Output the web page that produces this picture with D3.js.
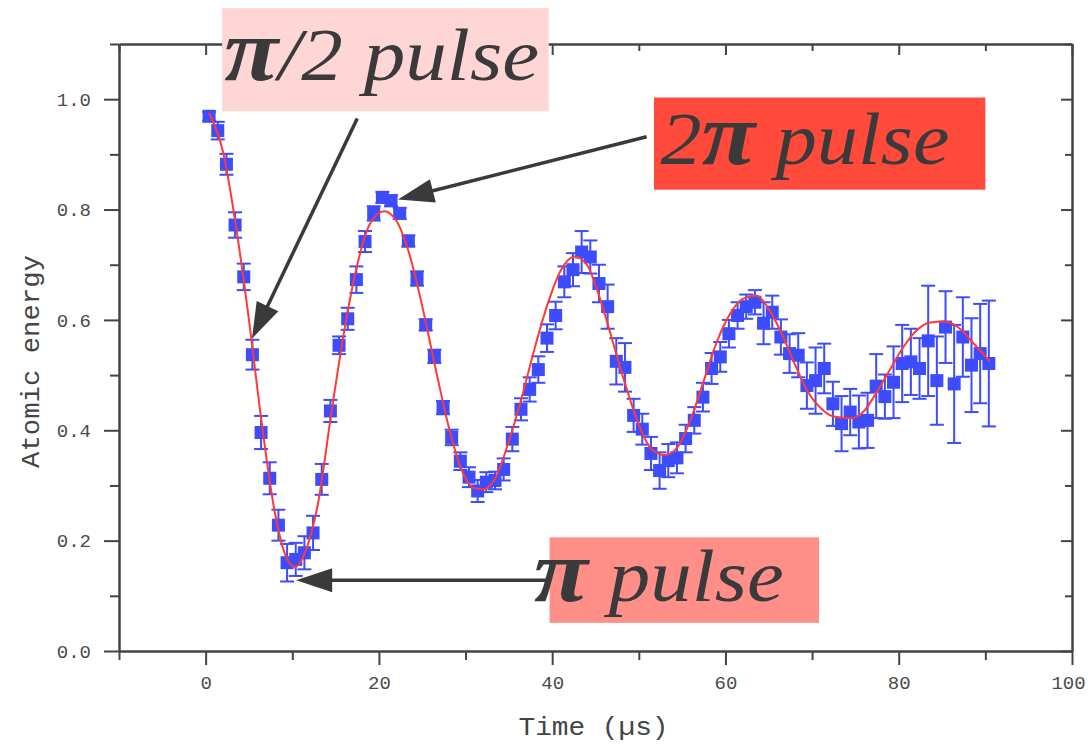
<!DOCTYPE html>
<html>
<head>
<meta charset="utf-8">
<script src="https://cdn.jsdelivr.net/npm/d3@7"></script>
<style>
  body { margin: 0; background: #fff; }
</style>
</head>
<body>
<div id="chart"></div>
<script>
// Measured points (time in microseconds, atomic energy, error half-width)
const timeUs = [0.4, 1.4, 2.4, 3.4, 4.4, 5.4, 6.4, 7.4, 8.4, 9.4,
    10.4, 11.4, 12.4, 13.4, 14.4, 15.4, 16.4, 17.4, 18.4, 19.4,
    20.4, 21.4, 22.4, 23.4, 24.4, 25.4, 26.4, 27.4, 28.4, 29.4,
    30.4, 31.4, 32.4, 33.4, 34.4, 35.4, 36.4, 37.4, 38.4, 39.4,
    40.4, 41.4, 42.4, 43.4, 44.4, 45.4, 46.4, 47.4, 48.4, 49.4,
    50.4, 51.4, 52.4, 53.4, 54.4, 55.4, 56.4, 57.4, 58.4, 59.4,
    60.4, 61.4, 62.4, 63.4, 64.4, 65.4, 66.4, 67.4, 68.4, 69.4,
    70.4, 71.4, 72.4, 73.4, 74.4, 75.4, 76.4, 77.4, 78.4, 79.4,
    80.4, 81.4, 82.4, 83.4, 84.4, 85.4, 86.4, 87.4, 88.4, 89.4, 90.4];
const energy = [0.969, 0.943, 0.882, 0.772, 0.678, 0.537, 0.396, 0.313, 0.228, 0.160,
    0.166, 0.178, 0.214, 0.311, 0.435, 0.554, 0.602, 0.673, 0.742, 0.793,
    0.822, 0.816, 0.793, 0.743, 0.675, 0.591, 0.534, 0.441, 0.387, 0.344,
    0.315, 0.290, 0.306, 0.309, 0.329, 0.384, 0.438, 0.474, 0.510, 0.567,
    0.608, 0.669, 0.691, 0.723, 0.714, 0.666, 0.624, 0.525, 0.514, 0.427,
    0.402, 0.358, 0.327, 0.345, 0.350, 0.385, 0.418, 0.460, 0.512, 0.533,
    0.575, 0.608, 0.624, 0.632, 0.594, 0.614, 0.569, 0.539, 0.536, 0.481,
    0.490, 0.512, 0.448, 0.412, 0.433, 0.415, 0.418, 0.480, 0.461, 0.487,
    0.521, 0.524, 0.512, 0.562, 0.490, 0.587, 0.484, 0.569, 0.518, 0.539, 0.521];
const energyErr = [0.008, 0.016, 0.019, 0.023, 0.024, 0.027, 0.030, 0.029, 0.028, 0.034,
    0.030, 0.030, 0.031, 0.028, 0.020, 0.016, 0.020, 0.024, 0.019, 0.013,
    0.010, 0.010, 0.010, 0.010, 0.013, 0.010, 0.012, 0.012, 0.014, 0.016,
    0.018, 0.020, 0.018, 0.016, 0.020, 0.022, 0.020, 0.022, 0.024, 0.025,
    0.025, 0.028, 0.030, 0.038, 0.030, 0.034, 0.040, 0.042, 0.044, 0.030,
    0.028, 0.030, 0.033, 0.030, 0.028, 0.025, 0.024, 0.026, 0.028, 0.027,
    0.025, 0.024, 0.022, 0.022, 0.038, 0.030, 0.032, 0.035, 0.040, 0.042,
    0.060, 0.045, 0.040, 0.050, 0.042, 0.048, 0.050, 0.058, 0.040, 0.065,
    0.070, 0.060, 0.055, 0.100, 0.080, 0.065, 0.107, 0.072, 0.085, 0.090, 0.114];

// Damped fit curve
const fitTime = [0.4, 2.0, 3.5, 5.0, 6.5, 8.0, 9.3, 10.3, 11.5, 13.0,
    14.5, 16.0, 17.5, 19.0, 20.6, 22.0, 23.5, 25.0, 26.5, 28.0,
    29.5, 31.0, 32.0, 33.5, 35.0, 36.5, 38.0, 39.5, 41.0, 42.6,
    44.0, 45.5, 47.0, 48.5, 50.0, 51.5, 53.0, 54.5, 56.0, 57.5,
    59.0, 60.5, 62.0, 63.6, 65.0, 66.5, 68.0, 69.5, 71.0, 72.5,
    74.5, 76.0, 77.5, 79.0, 80.5, 82.0, 83.5, 85.3, 87.0, 88.5, 90.5];
const fitEnergy = [0.975, 0.905, 0.770, 0.600, 0.410, 0.250, 0.170, 0.152, 0.180, 0.270,
    0.430, 0.580, 0.700, 0.775, 0.797, 0.780, 0.720, 0.625, 0.515, 0.410,
    0.330, 0.295, 0.293, 0.315, 0.380, 0.460, 0.550, 0.630, 0.690, 0.715,
    0.700, 0.640, 0.560, 0.480, 0.410, 0.365, 0.355, 0.370, 0.420, 0.490,
    0.560, 0.610, 0.638, 0.644, 0.620, 0.575, 0.520, 0.470, 0.440, 0.425,
    0.422, 0.435, 0.470, 0.510, 0.550, 0.580, 0.595, 0.597, 0.585, 0.560, 0.525];

const xMajorTicks = [0, 20, 40, 60, 80, 100];
const xMinorTicks = [-10, 10, 30, 50, 70, 90];
const yMajorTicks = [0.0, 0.2, 0.4, 0.6, 0.8, 1.0];
const yMinorTicks = [0.1, 0.3, 0.5, 0.7, 0.9, 1.1];

// Annotation labels: text parts (pi drawn bold), box and arrow in data units
const pulseLabels = [
    { parts: ["", "π", "/2 pulse"], fill: "#ffd6d6", box: [1.9, 39.6, 1.165, 0.978],
      textAt: [2.15, 1.034], textWidth: 315, from: [17.5, 0.965], to: [5.35, 0.566] },
    { parts: ["2", "π", " pulse"], fill: "#ff4a3c", box: [51.75, 90.0, 1.003, 0.836],
      textAt: [52.5, 0.882], textWidth: 289, from: [50.9, 0.932], to: [22.2, 0.818] },
    { parts: ["", "π", " pulse"], fill: "#ff8f88", box: [39.7, 70.8, 0.206, 0.051],
      textAt: [37.9, 0.090], textWidth: 250, from: [39.3, 0.128], to: [10.45, 0.128] }
];

const margin = { top: 44, right: 16, bottom: 95, left: 119 };
const width = 1088 - margin.left - margin.right;
const height = 746 - margin.top - margin.bottom;

const svg = d3.select("#chart")
    .append("svg")
    .attr("width", 1088)
    .attr("height", 746)
    .style("background", "#fff");

const g = svg.append("g")
    .attr("transform", `translate(${margin.left},${margin.top})`);

const xScale = d3.scaleLinear().domain([-10, 100]).range([0, width]);
const yScale = d3.scaleLinear().domain([0, 1.1]).range([height, 0]);

const axisColor = "#444";
const tickFont = "'Liberation Mono', 'DejaVu Sans Mono', monospace";

function styleAxis(sel) {
    sel.selectAll("path, line").attr("stroke", axisColor).attr("stroke-width", 2);
    sel.selectAll("text")
        .attr("fill", "#4a4a4a")
        .style("font-family", tickFont)
        .style("font-size", "19px");
}

// Bottom axis (outward ticks with labels)
g.append("g")
    .attr("transform", `translate(0,${height})`)
    .call(d3.axisBottom(xScale).tickValues(xMinorTicks).tickSize(9).tickSizeOuter(0).tickFormat(""))
    .call(styleAxis);
const xAxisG = g.append("g")
    .attr("transform", `translate(0,${height})`)
    .call(d3.axisBottom(xScale).tickValues(xMajorTicks).tickSize(14).tickSizeOuter(0)
        .tickPadding(11).tickFormat(d3.format("d")))
    .call(styleAxis);
// keep the last label inside the picture
xAxisG.selectAll(".tick text").filter((d) => d === 100).attr("dx", "-4");

// Left axis
g.append("g")
    .call(d3.axisLeft(yScale).tickValues(yMinorTicks).tickSize(9).tickSizeOuter(0).tickFormat(""))
    .call(styleAxis);
g.append("g")
    .call(d3.axisLeft(yScale).tickValues(yMajorTicks).tickSize(15).tickSizeOuter(0)
        .tickPadding(13).tickFormat(d3.format(".1f")))
    .call(styleAxis);

// Top and right axes (inward ticks, no labels)
g.append("g")
    .call(d3.axisBottom(xScale).tickValues(xMinorTicks).tickSize(7).tickSizeOuter(0).tickFormat(""))
    .call(styleAxis);
g.append("g")
    .call(d3.axisBottom(xScale).tickValues(xMajorTicks).tickSize(11).tickSizeOuter(0).tickFormat(""))
    .call(styleAxis);
g.append("g")
    .attr("transform", `translate(${width},0)`)
    .call(d3.axisLeft(yScale).tickValues(yMinorTicks).tickSize(7).tickSizeOuter(0).tickFormat(""))
    .call(styleAxis);
g.append("g")
    .attr("transform", `translate(${width},0)`)
    .call(d3.axisLeft(yScale).tickValues(yMajorTicks).tickSize(11).tickSizeOuter(0).tickFormat(""))
    .call(styleAxis);

// Axis titles
g.append("text")
    .attr("x", width / 2 - 2)
    .attr("y", height + 84)
    .attr("text-anchor", "middle")
    .attr("fill", "#444")
    .attr("textLength", 150)
    .attr("lengthAdjust", "spacingAndGlyphs")
    .style("font-family", tickFont)
    .style("font-size", "26px")
    .text("Time (µs)");

g.append("text")
    .attr("transform", `translate(${-margin.left + 39},${height / 2 + 14}) rotate(-90)`)
    .attr("text-anchor", "middle")
    .attr("fill", "#444")
    .attr("textLength", 213)
    .attr("lengthAdjust", "spacingAndGlyphs")
    .style("font-family", tickFont)
    .style("font-size", "26px")
    .text("Atomic energy");

// Data
const points = timeUs.map((t, i) => ({ t: t, e: energy[i], err: energyErr[i] }));
const blue = "#3d4cfd";
const capHalf = 7;

const bars = g.append("g").attr("stroke", blue).attr("stroke-width", 2);
bars.selectAll("line.v")
    .data(points)
    .enter()
    .append("line")
    .attr("class", "v")
    .attr("x1", (d) => xScale(d.t))
    .attr("x2", (d) => xScale(d.t))
    .attr("y1", (d) => yScale(d.e - d.err))
    .attr("y2", (d) => yScale(d.e + d.err));
bars.selectAll("line.top")
    .data(points)
    .enter()
    .append("line")
    .attr("class", "top")
    .attr("x1", (d) => xScale(d.t) - capHalf)
    .attr("x2", (d) => xScale(d.t) + capHalf)
    .attr("y1", (d) => yScale(d.e + d.err))
    .attr("y2", (d) => yScale(d.e + d.err));
bars.selectAll("line.bot")
    .data(points)
    .enter()
    .append("line")
    .attr("class", "bot")
    .attr("x1", (d) => xScale(d.t) - capHalf)
    .attr("x2", (d) => xScale(d.t) + capHalf)
    .attr("y1", (d) => yScale(d.e - d.err))
    .attr("y2", (d) => yScale(d.e - d.err));

const sq = 13;
g.append("g")
    .selectAll("rect")
    .data(points)
    .enter()
    .append("rect")
    .attr("x", (d) => xScale(d.t) - sq / 2)
    .attr("y", (d) => yScale(d.e) - sq / 2)
    .attr("width", sq)
    .attr("height", sq)
    .attr("fill", blue);

// Fit curve
const fitPoints = fitTime.map((t, i) => [t, fitEnergy[i]]);
const fitLine = d3.line()
    .x((d) => xScale(d[0]))
    .y((d) => yScale(d[1]))
    .curve(d3.curveMonotoneX);
g.append("path")
    .datum(fitPoints)
    .attr("d", fitLine)
    .attr("fill", "none")
    .attr("stroke", "#ff3a35")
    .attr("stroke-width", 2);

// Annotation boxes and text
const labelFont = "'Liberation Serif', 'DejaVu Serif', serif";
const ink = "#3a3a3a";

pulseLabels.forEach((lab) => {
    const [x0, x1, y0, y1] = lab.box;
    g.append("rect")
        .attr("x", xScale(x0))
        .attr("y", yScale(y0))
        .attr("width", xScale(x1) - xScale(x0))
        .attr("height", yScale(y1) - yScale(y0))
        .attr("fill", lab.fill);

    const tx = xScale(lab.textAt[0]);
    const ty = yScale(lab.textAt[1]);
    const holder = g.append("g");
    const txt = holder.append("text")
        .attr("x", tx)
        .attr("y", ty)
        .attr("fill", ink)
        .style("font-family", labelFont);
    txt.append("tspan")
        .style("font-style", "italic")
        .style("font-size", "74px")
        .text(lab.parts[0]);
    txt.append("tspan")
        .style("font-style", "italic")
        .style("font-weight", "bold")
        .style("font-size", "88px")
        .text(lab.parts[1]);
    txt.append("tspan")
        .style("font-style", "italic")
        .style("font-size", "74px")
        .text(lab.parts[2]);
    const len = txt.node().getComputedTextLength();
    const sx = lab.textWidth / len;
    holder.attr("transform", `translate(${tx},0) scale(${sx},1) translate(${-tx},0)`);
});

// Arrows
const headLen = 36;
const headHalf = 12;
pulseLabels.forEach((lab) => {
    const x1 = xScale(lab.from[0]), y1 = yScale(lab.from[1]);
    const x2 = xScale(lab.to[0]), y2 = yScale(lab.to[1]);
    const dx = x2 - x1, dy = y2 - y1;
    const L = Math.sqrt(dx * dx + dy * dy);
    const ux = dx / L, uy = dy / L;
    const bx = x2 - ux * headLen, by = y2 - uy * headLen;
    g.append("line")
        .attr("x1", x1).attr("y1", y1)
        .attr("x2", bx + ux * 4).attr("y2", by + uy * 4)
        .attr("stroke", ink)
        .attr("stroke-width", 3.5);
    g.append("path")
        .attr("d", `M${x2},${y2} L${bx - uy * headHalf},${by + ux * headHalf} L${bx + uy * headHalf},${by - ux * headHalf} Z`)
        .attr("fill", ink);
});
</script>
</body>
</html>
